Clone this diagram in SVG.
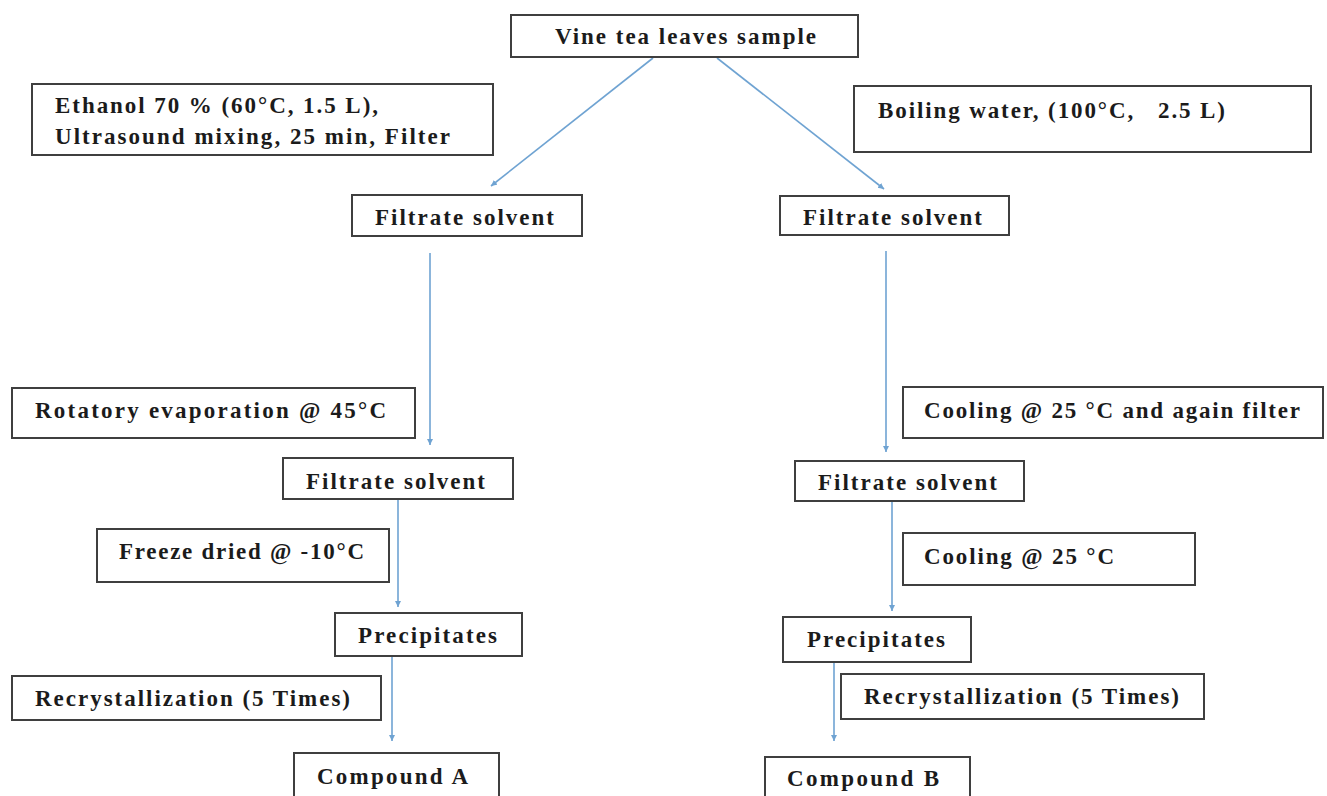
<svg xmlns="http://www.w3.org/2000/svg" width="1327" height="796" viewBox="0 0 1327 796">
<style>
.box{fill:#fff;stroke:#3f3f3f;stroke-width:2}
.t{font-family:"Liberation Serif","Times New Roman",serif;font-weight:bold;font-size:23px;fill:#1b1b1b}
.c{stroke:#6fa3d2;stroke-width:1.6;fill:none;marker-end:url(#ah)}
</style>
<defs>
<marker id="ah" markerWidth="8" markerHeight="8" refX="6" refY="3" orient="auto" markerUnits="userSpaceOnUse">
<path d="M0,0 L6,3 L0,6 z" fill="#6fa3d2"/>
</marker>
</defs>
<rect width="1327" height="796" fill="#fff"/>
<g id="connectors">
<line class="c" x1="653" y1="58" x2="491" y2="186"/>
<line class="c" x1="717" y1="58" x2="884" y2="189"/>
<line class="c" x1="430" y1="253" x2="430" y2="445"/>
<line class="c" x1="886" y1="251" x2="886" y2="452"/>
<line class="c" x1="398" y1="500" x2="398" y2="607"/>
<line class="c" x1="892" y1="502" x2="892" y2="611"/>
<line class="c" x1="392" y1="657" x2="392" y2="741"/>
<line class="c" x1="834" y1="663" x2="834" y2="741"/>
</g>
<g id="n-sample"><rect class="box" x="511" y="15" width="347" height="42"/><text class="t" x="555" y="44" textLength="261" lengthAdjust="spacing">Vine tea leaves sample</text></g>
<g id="n-ethanol"><rect class="box" x="32" y="84" width="461" height="71"/><text class="t" x="55" y="113" textLength="323" lengthAdjust="spacing">Ethanol 70 % (60°C, 1.5 L),</text><text class="t" x="55" y="144" textLength="395" lengthAdjust="spacing">Ultrasound mixing, 25 min, Filter</text></g>
<g id="n-boiling"><rect class="box" x="854" y="86" width="457" height="66"/><text class="t" x="878" y="118" textLength="347" lengthAdjust="spacing" xml:space="preserve">Boiling water, (100°C,   2.5 L)</text></g>
<g id="n-filtrate-l1"><rect class="box" x="352" y="195" width="230" height="41"/><text class="t" x="375" y="225" textLength="179" lengthAdjust="spacing">Filtrate solvent</text></g>
<g id="n-filtrate-r1"><rect class="box" x="780" y="196" width="229" height="39"/><text class="t" x="803" y="225" textLength="179" lengthAdjust="spacing">Filtrate solvent</text></g>
<g id="n-rotatory"><rect class="box" x="12" y="388" width="403" height="50"/><text class="t" x="35" y="418" textLength="351" lengthAdjust="spacing">Rotatory evaporation @ 45°C</text></g>
<g id="n-cooling1"><rect class="box" x="903" y="387" width="420" height="51"/><text class="t" x="924" y="418" textLength="376" lengthAdjust="spacing">Cooling @ 25 °C and again filter</text></g>
<g id="n-filtrate-l2"><rect class="box" x="283" y="458" width="230" height="41"/><text class="t" x="306" y="489" textLength="179" lengthAdjust="spacing">Filtrate solvent</text></g>
<g id="n-filtrate-r2"><rect class="box" x="795" y="461" width="229" height="40"/><text class="t" x="818" y="490" textLength="179" lengthAdjust="spacing">Filtrate solvent</text></g>
<g id="n-freeze"><rect class="box" x="97" y="529" width="292" height="53"/><text class="t" x="119" y="559" textLength="245" lengthAdjust="spacing">Freeze dried @ -10°C</text></g>
<g id="n-cooling2"><rect class="box" x="903" y="533" width="292" height="52"/><text class="t" x="924" y="564" textLength="190" lengthAdjust="spacing">Cooling @ 25 °C</text></g>
<g id="n-precip-l"><rect class="box" x="335" y="613" width="187" height="43"/><text class="t" x="358" y="643" textLength="139" lengthAdjust="spacing">Precipitates</text></g>
<g id="n-precip-r"><rect class="box" x="783" y="617" width="188" height="45"/><text class="t" x="807" y="647" textLength="138" lengthAdjust="spacing">Precipitates</text></g>
<g id="n-recryst-l"><rect class="box" x="12" y="676" width="369" height="44"/><text class="t" x="35" y="706" textLength="315" lengthAdjust="spacing">Recrystallization (5 Times)</text></g>
<g id="n-recryst-r"><rect class="box" x="841" y="674" width="363" height="45"/><text class="t" x="864" y="704" textLength="315" lengthAdjust="spacing">Recrystallization (5 Times)</text></g>
<g id="n-compound-a"><rect class="box" x="294" y="753" width="205" height="60"/><text class="t" x="317" y="784" textLength="151" lengthAdjust="spacing">Compound A</text></g>
<g id="n-compound-b"><rect class="box" x="765" y="757" width="205" height="60"/><text class="t" x="787" y="786" textLength="152" lengthAdjust="spacing">Compound B</text></g>
</svg>
